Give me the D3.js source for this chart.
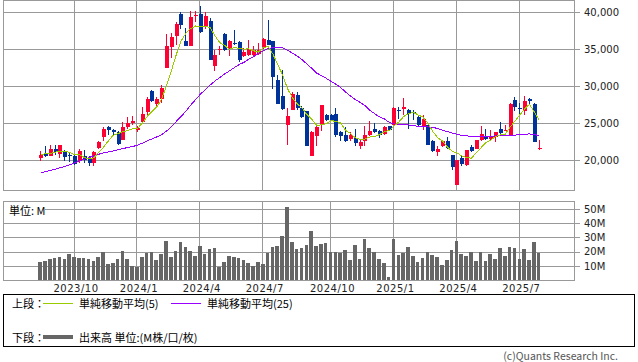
<!DOCTYPE html>
<html>
<head>
<meta charset="utf-8">
<script src="https://cdn.jsdelivr.net/npm/d3@7"></script>
<style>
body { margin: 0; background: #fff; }
svg { display: block; }
text { font-family: "DejaVu Sans", sans-serif; }
.jp { font-family: "Noto Sans CJK JP", sans-serif; }
</style>
</head>
<body>
<div id="chart"></div>
<script>
// weekly candles, index 0 = week of 2023/8/14
const opens = [20240, 20870, 20600, 21550, 20870, 21280, 20650, 20600, 19840, 20600,
    20200, 19610, 21640, 23080, 24430, 24110, 23800, 22670, 24520, 25010,
    24020, 25100, 26450, 29290, 27620, 28300, 32440, 35230, 36710, 39770,
    36040, 35360, 39500, 39770, 37930, 38830, 32750, 34950, 37070, 35000,
    35850, 35950, 34010, 34240, 34240, 34370, 35270, 36260, 36040, 30860,
    28700, 24790, 26810, 28840, 27040, 26590, 20510, 23300, 24790, 26140,
    26140, 26270, 23750, 23350, 22900, 22990, 21860, 22540, 23440, 24250,
    23980, 23570, 24560, 24790, 26810, 26950, 26810, 26550, 25820, 24470,
    24790, 22630, 21050, 21860, 22540, 20740, 16600, 20290, 19390, 21730,
    21550, 22760, 23300, 22850, 23120, 24250, 23890, 23440, 28070, 27080,
    26590, 28250, 27580, 21460];
const highs = [21280, 21860, 22000, 22090, 22090, 21320, 21050, 20870, 21550, 21410,
    20600, 21190, 22540, 24430, 24560, 24250, 23980, 25190, 25780, 26000,
    24650, 27170, 28520, 29420, 28480, 30190, 37070, 37160, 38650, 40000,
    37840, 40090, 40180, 40850, 39950, 39190, 34820, 35360, 37160, 36260,
    37610, 36040, 35140, 36260, 35360, 35810, 36490, 38960, 36040, 31540,
    32210, 27040, 29150, 29150, 27260, 26590, 23890, 24790, 27490, 26230,
    26230, 27040, 23890, 24470, 23750, 24200, 22760, 24650, 25240, 25010,
    24110, 24560, 24650, 27170, 27170, 28390, 26900, 26810, 25910, 26140,
    24790, 22760, 21950, 22760, 23120, 20740, 20060, 20740, 21410, 22000,
    22760, 24650, 24200, 24110, 23750, 25150, 24790, 27710, 28520, 27710,
    28610, 28390, 27710, 22760];
const lows = [19930, 20450, 20510, 20740, 20290, 19840, 19700, 19300, 19610, 19610,
    19250, 19250, 21550, 22540, 23440, 23440, 22090, 22670, 24200, 24790,
    23750, 24920, 25910, 27800, 27260, 27710, 32440, 33790, 35590, 37750,
    35360, 35360, 38600, 37160, 37700, 33470, 31990, 34240, 34690, 34100,
    35590, 33200, 33900, 34100, 34100, 34240, 35000, 35590, 29600, 27620,
    26720, 22090, 26810, 26810, 25690, 21860, 20510, 21950, 23890, 25240,
    25300, 23120, 22540, 22400, 22540, 21860, 21500, 21860, 23210, 23660,
    22990, 23440, 24020, 24790, 25550, 26140, 24200, 25370, 24650, 24110,
    22090, 21050, 20600, 21770, 21500, 18620, 16600, 19160, 19250, 21050,
    21550, 22540, 22760, 22540, 22400, 23440, 23890, 23440, 26590, 26140,
    26140, 27620, 22400, 21410];
const closes = [20740, 20510, 21550, 21140, 22000, 20380, 20580, 19480, 21280, 19970,
    19610, 21100, 22400, 24250, 24020, 23800, 22220, 24520, 24970, 25330,
    24340, 26270, 28300, 27940, 28250, 29740, 35360, 36580, 38420, 38290,
    35360, 39320, 39600, 37250, 39500, 33470, 34240, 35050, 34910, 36130,
    35780, 33560, 34550, 35000, 34910, 34910, 36400, 35590, 31180, 27620,
    26900, 25910, 28970, 27040, 25820, 21950, 23750, 24430, 27490, 25370,
    25460, 23440, 23210, 22540, 23440, 22310, 22400, 23440, 23980, 23840,
    23440, 24470, 24110, 27040, 26590, 27170, 26270, 26480, 24790, 25550,
    22090, 21190, 21550, 22540, 21640, 19030, 20060, 19520, 21410, 21190,
    22670, 23570, 22850, 23080, 23750, 23660, 24110, 27620, 27130, 27000,
    27940, 27940, 22400, 21640];
const sma5 = [20740, 20830, 20870, 21050, 21190, 21120, 21050, 20720, 20740, 20340,
    20180, 20290, 21050, 21730, 22580, 23350, 23570, 23840, 23980, 24200,
    24250, 24970, 25870, 26540, 27170, 28210, 30050, 32030, 34190, 36040,
    37120, 37750, 38110, 38060, 38110, 37880, 36800, 35860, 35500, 34960,
    35180, 35090, 34990, 35010, 34760, 34590, 35160, 35360, 34300, 32900,
    31470, 29650, 28430, 27610, 27050, 26150, 25510, 24690, 24740, 24900,
    25300, 25240, 24990, 24000, 23620, 22990, 22780, 22830, 23110, 23190,
    23420, 23830, 23970, 24580, 25130, 25880, 26240, 26450, 26080, 25800,
    24950, 23880, 23030, 22580, 21800, 21190, 20960, 20560, 20330, 20240,
    20970, 21670, 22340, 22670, 23190, 23380, 23490, 24450, 25260, 26100,
    26900, 27530, 26480, 25380];
const sma25 = [18260, 18440, 18580, 18760, 18940, 19120, 19340, 19610, 19880, 20110,
    20330, 20560, 20780, 20960, 21100, 21230, 21370, 21550, 21680, 21820,
    22000, 22270, 22580, 22850, 23120, 23440, 23890, 24470, 25190, 25870,
    26590, 27400, 28160, 28880, 29510, 30100, 30680, 31130, 31630, 32030,
    32480, 32890, 33200, 33610, 33970, 34420, 34730, 35050, 35180, 35230,
    35180, 34820, 34460, 34060, 33560, 32980, 32390, 31760, 31400, 31040,
    30640, 30230, 29780, 29200, 28660, 28160, 27800, 27350, 26720, 26270,
    25820, 25550, 25100, 24880, 24790, 24790, 24740, 24650, 24560, 24520,
    24470, 24430, 24250, 24020, 23840, 23660, 23480, 23300, 23260, 23210,
    23210, 23210, 23210, 23210, 23260, 23300, 23300, 23300, 23350, 23440,
    23480, 23530, 23440, 23300];
// 出来高 (M)
const volumes = [12.9, 13.6, 15.0, 15.7, 16.4, 15.0, 18.5, 16.4, 15.7, 15.7,
    15.0, 13.6, 16.4, 19.9, 11.5, 12.2, 15.0, 20.6, 15.0, 9.7,
    9.0, 16.4, 19.2, 19.9, 14.3, 18.5, 27.6, 16.4, 20.6, 26.9,
    23.4, 20.6, 17.1, 24.1, 18.5, 22.0, 22.7, 9.0, 12.9, 17.1,
    16.4, 15.7, 14.3, 12.2, 9.7, 12.9, 11.5, 19.2, 23.4, 24.1,
    31.1, 51.4, 26.9, 22.0, 22.7, 24.8, 34.6, 24.1, 25.5, 26.2,
    19.9, 19.9, 19.2, 21.3, 14.3, 24.8, 15.0, 29.0, 22.7, 19.9,
    15.0, 12.2, 2.4, 29.0, 17.8, 19.2, 23.4, 17.1, 12.9, 15.7,
    19.9, 17.8, 16.4, 10.8, 14.3, 21.3, 27.6, 18.5, 17.1, 19.9,
    13.6, 19.9, 13.6, 18.5, 15.0, 22.7, 17.1, 23.4, 22.7, 15.0,
    22.0, 14.3, 26.9, 19.2];

const tickIndex = [7, 20, 33, 46, 60, 73, 86, 99];
const tickLabels = ["2023/10", "2024/1", "2024/4", "2024/7", "2024/10", "2025/1", "2025/4", "2025/7"];
const priceTicks = [20000, 25000, 30000, 35000, 40000];
const volumeTicks = [10, 20, 30, 40, 50];

const upColor = "#ff0033";
const downColor = "#003399";
const gridColor = "#999";

const svg = d3.select("#chart")
    .append("svg")
    .attr("width", 638)
    .attr("height", 362);

const left = 3, right = 574;
const x = d3.scaleLinear().domain([-7.67, 110.3]).range([left, right]);
const y = d3.scaleLinear().domain([20000, 40000]).range([160, 12]);
const yv = d3.scaleLinear().domain([0, 50]).range([280, 209]);

function panel(top, bottom, scale, ticks, fmt) {
    const g = svg.append("g");
    const ax = g.append("g")
        .attr("transform", "translate(580,0)")
        .call(d3.axisRight(scale).tickValues(ticks).tickSizeInner(-(580 - left)).tickSizeOuter(0).tickPadding(4).tickFormat(fmt));
    ax.select(".domain").remove();
    ax.selectAll("line").attr("stroke", gridColor).attr("shape-rendering", "crispEdges");
    ax.selectAll("text").attr("font-family", "DejaVu Sans").attr("font-size", 10).attr("fill", "#222");

    g.selectAll(".vgrid")
        .data(tickIndex)
        .enter()
        .append("line")
        .attr("x1", d => Math.floor(x(d)) + 0.5)
        .attr("x2", d => Math.floor(x(d)) + 0.5)
        .attr("y1", top)
        .attr("y2", bottom)
        .attr("stroke", gridColor)
        .attr("shape-rendering", "crispEdges");

    g.append("rect")
        .attr("x", left + 0.5)
        .attr("y", top)
        .attr("width", right - left)
        .attr("height", bottom - top)
        .attr("fill", "none")
        .attr("stroke", gridColor)
        .attr("shape-rendering", "crispEdges");
    return g;
}

panel(0.5, 190.5, y, priceTicks, d3.format(","));
panel(201.5, 280.5, yv, volumeTicks, d => d + "M");

// volume bars
svg.append("g")
    .selectAll("rect")
    .data(volumes)
    .enter()
    .append("rect")
    .attr("x", (d, i) => x(i) - 1.8)
    .attr("width", 3.6)
    .attr("y", d => yv(d))
    .attr("height", d => yv(0) - yv(d))
    .attr("fill", "#666")
    .attr("shape-rendering", "crispEdges");

svg.append("rect")
    .attr("x", 4).attr("y", 204)
    .attr("width", 41).attr("height", 12)
    .attr("fill", "#fff");
svg.append("text")
    .attr("class", "jp")
    .attr("x", 9).attr("y", 210)
    .attr("dominant-baseline", "central")
    .attr("font-size", 11)
    .text("単位: M");

// candles
const candles = svg.append("g").attr("shape-rendering", "crispEdges");
opens.forEach((o, i) => {
    const c = closes[i];
    const col = c >= o ? upColor : downColor;
    const cx = Math.round(x(i));
    candles.append("line")
        .attr("x1", cx + 0.5).attr("x2", cx + 0.5)
        .attr("y1", y(highs[i])).attr("y2", y(lows[i]))
        .attr("stroke", col);
    const top = y(Math.max(o, c));
    const h = Math.max(1, y(Math.min(o, c)) - top);
    candles.append("rect")
        .attr("x", cx - 1).attr("width", 4)
        .attr("y", top).attr("height", h)
        .attr("fill", col);
});

const line = d3.line().x((d, i) => x(i) + 0.5).y(d => y(d));
svg.append("path")
    .datum(sma25)
    .attr("d", line)
    .attr("fill", "none")
    .attr("stroke", "#9900ff")
    .attr("stroke-width", 1)
    .attr("shape-rendering", "crispEdges");
svg.append("path")
    .datum(sma5)
    .attr("d", line)
    .attr("fill", "none")
    .attr("stroke", "#99cc00")
    .attr("stroke-width", 1)
    .attr("shape-rendering", "crispEdges");

// x labels
svg.append("g")
    .selectAll("text")
    .data(tickIndex)
    .enter()
    .append("text")
    .attr("x", d => x(d) + 2)
    .attr("y", 288.5)
    .attr("dominant-baseline", "central")
    .attr("text-anchor", "middle")
    .attr("font-size", 10)
    .attr("letter-spacing", 0.5)
    .attr("fill", "#222")
    .text((d, i) => tickLabels[i]);

// legend
const legend = svg.append("g");
legend.append("rect")
    .attr("x", 3.5).attr("y", 294.5)
    .attr("width", 631).attr("height", 51.5)
    .attr("fill", "none")
    .attr("stroke", "#000")
    .attr("shape-rendering", "crispEdges");

const legendItems = [
    { label: "上段：", x: 12, y: 303 },
    { label: "単純移動平均(5)", x: 79, y: 303 },
    { label: "単純移動平均(25)", x: 207, y: 303 },
    { label: "下段：", x: 12, y: 336.5 },
    { label: "出来高 単位:(M株/口/枚)", x: 79, y: 336.5 }
];
legend.selectAll("text")
    .data(legendItems)
    .enter()
    .append("text")
    .attr("class", "jp")
    .attr("x", d => d.x)
    .attr("y", d => d.y)
    .attr("dominant-baseline", "central")
    .attr("font-size", 11)
    .text(d => d.label);

const legendLines = [
    { x1: 43, x2: 73, y: 303.5, color: "#99cc00", w: 1 },
    { x1: 171, x2: 201, y: 303.5, color: "#9900ff", w: 1 },
    { x1: 43, x2: 73, y: 337, color: "#666", w: 4 }
];
legend.selectAll("line")
    .data(legendLines)
    .enter()
    .append("line")
    .attr("x1", d => d.x1).attr("x2", d => d.x2)
    .attr("y1", d => d.y).attr("y2", d => d.y)
    .attr("stroke", d => d.color)
    .attr("stroke-width", d => d.w)
    .attr("shape-rendering", "crispEdges");

svg.append("text")
    .attr("class", "jp")
    .attr("x", 618).attr("y", 355)
    .attr("text-anchor", "end")
    .attr("dominant-baseline", "central")
    .attr("font-size", 10.5)
    .attr("fill", "#555")
    .text("(c)Quants Research Inc.");
</script>
</body>
</html>
